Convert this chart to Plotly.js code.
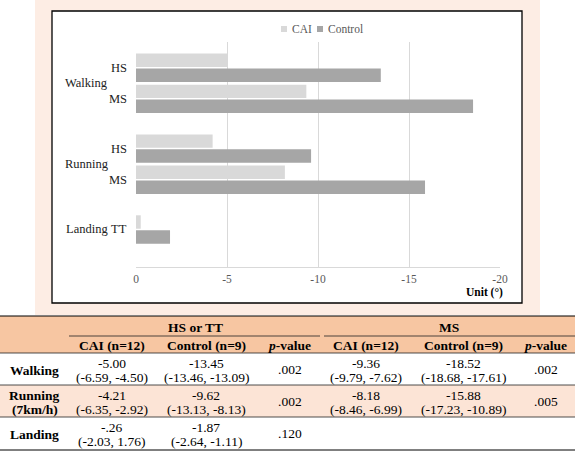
<!DOCTYPE html>
<html><head><meta charset="utf-8">
<script src="https://cdn.plot.ly/plotly-3.0.1.min.js"></script>
<style>html,body{margin:0;padding:0;background:#fff;}#chart{width:575px;height:451px;}</style>
</head><body><div id="chart"></div>
<script>
// ---------- chart data ----------
const activities = ["Walking", "Walking", "Running", "Running", "Landing"];
const phases = ["HS", "MS", "HS", "MS", "TT"];
const caiValues = [-5.00, -9.36, -4.21, -8.18, -0.26];
const controlValues = [-13.45, -18.52, -9.62, -15.88, -1.87];
const seriesNames = ["CAI", "Control"];
const xTickValues = [0, -5, -10, -15, -20];
const xTickLabels = ["0", "-5", "-10", "-15", "-20"];
const xUnitLabel = "Unit (°)";

// ---------- table data ----------
const tableGroups = ["HS or TT", "MS"];
const tableSubHeaders = ["CAI (n=12)", "Control (n=9)", "<i>p</i>-value", "CAI (n=12)", "Control (n=9)", "<i>p</i>-value"];
const tableRowLabels = [["Walking"], ["Running", "(7km/h)"], ["Landing"]];
const hsCaiMean = ["-5.00", "-4.21", "-.26"];
const hsCaiCI = ["(-6.59, -4.50)", "(-6.35, -2.92)", "(-2.03, 1.76)"];
const hsControlMean = ["-13.45", "-9.62", "-1.87"];
const hsControlCI = ["(-13.46, -13.09)", "(-13.13, -8.13)", "(-2.64, -1.11)"];
const hsP = [".002", ".002", ".120"];
const msCaiMean = ["-9.36", "-8.18", ""];
const msCaiCI = ["(-9.79, -7.62)", "(-8.46, -6.99)", ""];
const msControlMean = ["-18.52", "-15.88", ""];
const msControlCI = ["(-18.68, -17.61)", "(-17.23, -10.89)", ""];
const msP = [".002", ".005", ""];

// ---------- layout geometry ----------
const W = 575, H = 451;
const M = {l: 136, r: 75, t: 42, b: 184};
const PW = W - M.l - M.r, PH = H - M.t - M.b;
const px = x => (x - M.l) / PW;
const py = y => (H - M.b - y) / PH;
const GROUP_STEP = 1.6;
const SERIF = "Liberation Serif, Times New Roman, serif";

// category positions (gap between activity groups)
const pos = [];
let p = 0;
activities.forEach((a, i) => { if (i > 0) p += (a === activities[i - 1]) ? 1 : GROUP_STEP; pos.push(p); });

const traces = [
  {type: "bar", orientation: "h", name: seriesNames[0], x: caiValues, y: pos,
   marker: {color: "#d9d9d9"}, showlegend: false, hoverinfo: "skip"},
  {type: "bar", orientation: "h", name: seriesNames[1], x: controlValues, y: pos,
   marker: {color: "#a6a6a6"}, showlegend: false, hoverinfo: "skip"}
];

const shapes = [];
const annotations = [];
function rect(x0, y0, x1, y1, fill, line, lw) {
  shapes.push({type: "rect", xref: "paper", yref: "paper", x0: px(x0), x1: px(x1), y0: py(y0), y1: py(y1),
    fillcolor: fill, line: {color: line || "rgba(0,0,0,0)", width: lw || 0}, layer: "below"});
}
function hline(x0, x1, y, color, w) {
  shapes.push({type: "line", xref: "paper", yref: "paper", x0: px(x0), x1: px(x1), y0: py(y), y1: py(y),
    line: {color: color, width: w}});
}
function text(x, y, t, opt) {
  opt = opt || {};
  annotations.push({xref: "paper", yref: "paper", x: px(x), y: py(y), text: t, showarrow: false,
    xanchor: opt.xa || "center", yanchor: "middle",
    font: {family: SERIF, size: opt.size || 13.5, color: opt.color || "#000"}});
}

// figure background
rect(35, 0, 540, 315, "#fdede4");
rect(52, 11, 522, 303, "#ffffff", "#000000", 1.3);

// legend
rect(281, 26, 287, 32, "#d9d9d9");
text(290, 29.5, seriesNames[0], {xa: "left", size: 11.5, color: "#595959"});
rect(317, 26, 323, 32, "#a6a6a6");
text(326, 29.5, seriesNames[1], {xa: "left", size: 11.5, color: "#595959"});

// category labels
phases.forEach((ph, i) => {
  annotations.push({xref: "paper", yref: "y", x: px(129), y: pos[i], text: ph, showarrow: false,
    xanchor: "right", yanchor: "middle", font: {family: SERIF, size: 12.5, color: "#222"}});
});
const seen = {};
activities.forEach((a, i) => { (seen[a] = seen[a] || []).push(pos[i]); });
Object.keys(seen).forEach(a => {
  const ys = seen[a];
  const yc = ys.reduce((s, v) => s + v, 0) / ys.length;
  annotations.push({xref: "paper", yref: "y", x: px(86.5), y: yc, text: a, showarrow: false,
    xanchor: "center", yanchor: "middle", font: {family: SERIF, size: 12.5, color: "#222"}});
});
// unit label
annotations.push({xref: "paper", yref: "paper", x: px(505), y: py(292.5), text: "<b>" + xUnitLabel + "</b>",
  showarrow: false, xanchor: "right", yanchor: "middle", font: {family: SERIF, size: 11.5, color: "#000"}});

// ---------- table ----------
const colCenters = [34.5, 112, 206, 289.5, 366, 463, 545.5];
const rowTops = [353, 385, 417];
const rowH = 32.5;
rect(0, 316, 575, 353, "#f7c6a2");
rect(0, 385, 575, 417, "#fce4d6");
hline(0, 575, 316, "#000", 1);
hline(69, 320, 336, "#222", 0.8);
hline(324, 575, 336, "#222", 0.8);
hline(0, 575, 353, "#222", 0.8);
hline(0, 575, 385, "#222", 0.8);
hline(0, 575, 417, "#222", 0.8);
hline(0, 575, 450, "#000", 1);

text(195.5, 327, "<b>" + tableGroups[0] + "</b>");
text(448.5, 327, "<b>" + tableGroups[1] + "</b>");
tableSubHeaders.forEach((h, i) => text(colCenters[i + 1], 345, "<b>" + h + "</b>"));

tableRowLabels.forEach((lines, r) => {
  const mid = rowTops[r] + rowH / 2 + 1;
  if (lines.length === 1) text(colCenters[0], mid, "<b>" + lines[0] + "</b>");
  else { text(colCenters[0], mid - 7, "<b>" + lines[0] + "</b>"); text(colCenters[0], mid + 7, "<b>" + lines[1] + "</b>"); }
});
const pairCols = [[hsCaiMean, hsCaiCI, 1], [hsControlMean, hsControlCI, 2], [msCaiMean, msCaiCI, 4], [msControlMean, msControlCI, 5]];
for (let r = 0; r < 3; r++) {
  pairCols.forEach(([m, ci, c]) => {
    if (m[r]) text(colCenters[c], rowTops[r] + 10, m[r]);
    if (ci[r]) text(colCenters[c], rowTops[r] + 24.5, ci[r]);
  });
  if (hsP[r]) text(colCenters[3], rowTops[r] + rowH / 2, hsP[r]);
  if (msP[r]) text(colCenters[6], rowTops[r] + rowH / 2, msP[r]);
}

const layout = {
  width: W, height: H,
  margin: M,
  paper_bgcolor: "#ffffff",
  plot_bgcolor: "rgba(0,0,0,0)",
  barmode: "group",
  bargap: 0.04,
  bargroupgap: 0.1,
  showlegend: false,
  xaxis: {range: [0, -20], tickvals: xTickValues, ticktext: xTickLabels,
    showgrid: true, gridcolor: "#d9d9d9", gridwidth: 1, zeroline: false,
    showline: true, linecolor: "#d9d9d9", linewidth: 1,
    ticks: "outside", ticklen: 1, tickcolor: "rgba(0,0,0,0)",
    tickfont: {family: SERIF, size: 11.5, color: "#595959"}, automargin: false, fixedrange: true},
  yaxis: {range: [(H - M.b - 67.75) / 31.1, (M.t - 67.75) / 31.1], showticklabels: false,
    showgrid: false, zeroline: false, showline: false, ticks: "", automargin: false, fixedrange: true},
  shapes: shapes,
  annotations: annotations
};
Plotly.newPlot("chart", traces, layout, {displayModeBar: false, staticPlot: true});
</script>
</body></html>
